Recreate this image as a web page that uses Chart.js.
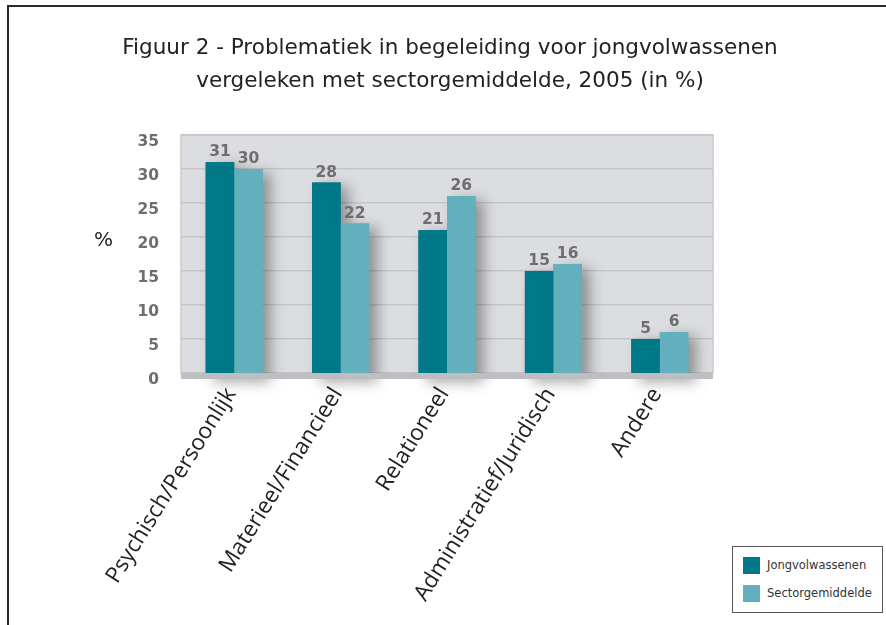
<!DOCTYPE html>
<html>
<head>
<meta charset="utf-8">
<script src="https://cdn.jsdelivr.net/npm/chart.js@4.4.0/dist/chart.umd.min.js"></script>
<style>
  body { margin: 0; background: #fff; }
  #wrap { position: relative; width: 886px; height: 625px; overflow: hidden; }
  #frame { position: absolute; left: 7px; top: 5px; right: 0; bottom: 0; border-top: 2px solid #2a2a2a; border-left: 2px solid #2a2a2a; }
  #title { position: absolute; left: 0; width: 900px; top: 30px; text-align: center; font: 21.5px "DejaVu Sans"; line-height: 33px; color: #222; }
  #pct { position: absolute; left: 94px; top: 227px; font: 20px "DejaVu Sans"; color: #222; }
  #legend { position: absolute; left: 732px; top: 546px; width: 149px; height: 65px; border: 1px solid #555; background: #fff; font: 11.5px "DejaVu Sans"; color: #333; }
  .row { position: absolute; left: 10px; height: 17px; line-height: 17px; }
  .sw { display: inline-block; width: 17px; height: 17px; vertical-align: top; margin-right: 7px; }
  canvas { position: absolute; left: 0; top: 0; }
</style>
</head>
<body>
<div id="wrap">
  <div id="frame"></div>
  <canvas id="chart" width="886" height="625"></canvas>
  <div id="title">Figuur 2 - Problematiek in begeleiding voor jongvolwassenen<br>vergeleken met sectorgemiddelde, 2005 (in %)</div>
  <div id="pct">%</div>
  <div id="legend">
    <div class="row" style="top:10px"><span class="sw" style="background:#007888"></span>Jongvolwassenen</div>
    <div class="row" style="top:38px"><span class="sw" style="background:#62afbd"></span>Sectorgemiddelde</div>
  </div>
</div>
<script>
// Chart data
const categories = ['Psychisch/Persoonlijk', 'Materieel/Financieel', 'Relationeel', 'Administratief/Juridisch', 'Andere'];
const jongvolwassenen = [31, 28, 21, 15, 5];
const sectorgemiddelde = [30, 22, 26, 16, 6];
const yMin = 0;
const yMax = 35;
const yStep = 5;

// Grey plot background
const plotBackground = {
    id: 'plotBackground',
    beforeDraw(chart) {
        const ctx = chart.ctx;
        const a = chart.chartArea;
        ctx.save();
        ctx.fillStyle = '#dcdde0';
        ctx.fillRect(a.left, a.top, a.right - a.left, a.bottom - a.top);
        ctx.strokeStyle = '#c9cacd';
        ctx.lineWidth = 1.5;
        ctx.strokeRect(a.left, a.top, a.right - a.left, a.bottom - a.top);
        ctx.restore();
    }
};

// Soft shadow behind bars, then the floor
const barShadow = {
    id: 'barShadow',
    beforeDatasetsDraw(chart) {
        const ctx = chart.ctx;
        const a = chart.chartArea;
        ctx.save();
        ctx.shadowColor = 'rgba(0,0,0,0.35)';
        ctx.shadowBlur = 14;
        ctx.shadowOffsetX = 8;
        ctx.shadowOffsetY = 4;
        chart.data.datasets.forEach((ds, i) => {
            chart.getDatasetMeta(i).data.forEach(bar => {
                ctx.fillStyle = ds.backgroundColor;
                ctx.fillRect(bar.x - bar.width / 2, bar.y, bar.width, bar.base - bar.y + 6);
            });
        });
        ctx.restore();
        ctx.fillStyle = '#bdbec2';
        ctx.fillRect(a.left, a.bottom, a.right - a.left, 6);
    }
};

// Value labels above bars
const valueLabels = {
    id: 'valueLabels',
    afterDatasetsDraw(chart) {
        const ctx = chart.ctx;
        ctx.save();
        ctx.font = 'bold 15.5px "DejaVu Sans"';
        ctx.fillStyle = '#6e6e6e';
        ctx.textAlign = 'center';
        ctx.textBaseline = 'bottom';
        chart.data.datasets.forEach((ds, i) => {
            chart.getDatasetMeta(i).data.forEach((bar, j) => {
                ctx.fillText(ds.data[j], bar.x, bar.y - 2);
            });
        });
        ctx.restore();
    }
};

new Chart(document.getElementById('chart'), {
    type: 'bar',
    data: {
        labels: categories,
        datasets: [{
            label: 'Jongvolwassenen',
            data: jongvolwassenen,
            backgroundColor: '#007888',
            categoryPercentage: 0.536,
            barPercentage: 1.0
        }, {
            label: 'Sectorgemiddelde',
            data: sectorgemiddelde,
            backgroundColor: '#62afbd',
            categoryPercentage: 0.536,
            barPercentage: 1.0
        }]
    },
    options: {
        responsive: false,
        animation: false,
        devicePixelRatio: 1,
        layout: { padding: { top: 135, right: 173, bottom: 0, left: 0 } },
        plugins: {
            legend: { display: false },
            title: { display: false },
            tooltip: { enabled: false }
        },
        scales: {
            y: {
                min: yMin,
                max: yMax,
                ticks: {
                    stepSize: yStep,
                    padding: 22,
                    labelOffset: 7,
                    color: '#6e6e6e',
                    font: { family: 'DejaVu Sans', size: 15.5, weight: 'bold' }
                },
                grid: { color: '#c4c5c9', lineWidth: 1.5, drawTicks: false },
                border: { display: false },
                afterFit: s => { s.width = 181; }
            },
            x: {
                ticks: {
                    autoSkip: false,
                    maxRotation: 58,
                    minRotation: 58,
                    padding: 10,
                    labelOffset: -3,
                    color: '#222',
                    font: { family: 'Open Sans', size: 22.5 }
                },
                grid: { display: false, drawTicks: false },
                border: { display: false },
                afterFit: s => { s.height = 252; }
            }
        }
    },
    plugins: [plotBackground, barShadow, valueLabels]
});
</script>
</body>
</html>
